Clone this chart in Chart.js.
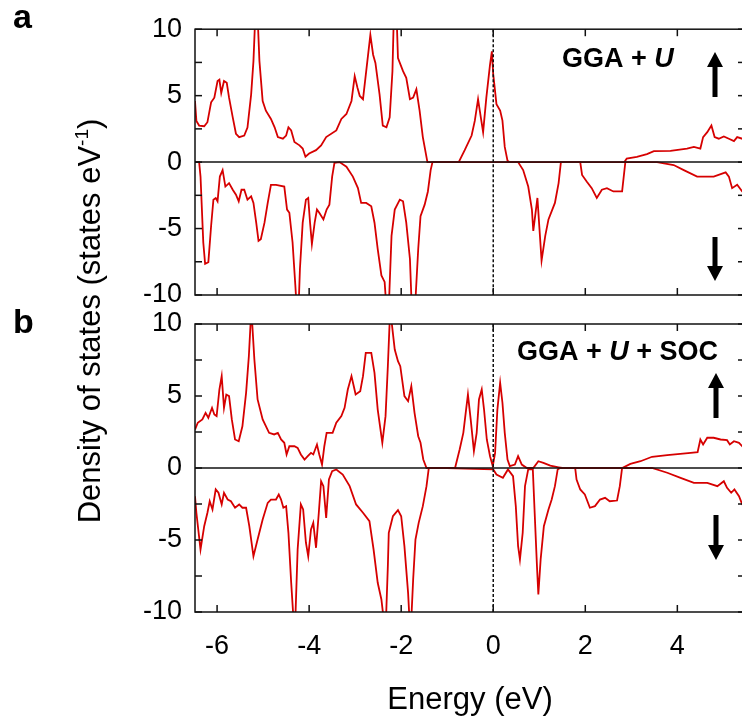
<!DOCTYPE html>
<html>
<head>
<meta charset="utf-8">
<script src="https://cdn.jsdelivr.net/npm/chart.js@4.4.1/dist/chart.umd.min.js"></script>
<style>
    html, body { margin: 0; padding: 0; background: #fff; overflow: hidden; width: 742px; height: 725px; }
    canvas { position: absolute; left: 0; top: 0; }
</style>
</head>
<body>
<canvas id="panelA" width="750" height="725"></canvas>
<canvas id="panelB" width="750" height="725"></canvas>
<script>
// energy window and tick positions
const xMin = -6.48;
const xMax = 5.47;
const xTicks = [-6, -4, -2, 0, 2, 4];
const yTicks = [-10, -7.5, -5, -2.5, 0, 2.5, 5, 7.5, 10];

// panel a: GGA + U, spin up
const aUpEnergy = [-6.48, -6.45, -6.39, -6.28, -6.21, -6.13, -6.06, -5.99, -5.95, -5.91, -5.85, -5.79, -5.74, -5.66, -5.59, -5.52, -5.41, -5.34, -5.26, -5.21, -5.17, -5.12, -5.08, -5.01, -4.94, -4.83, -4.75, -4.68, -4.57, -4.5, -4.45, -4.39, -4.32, -4.21, -4.14, -4.08, -4.0, -3.85, -3.74, -3.63, -3.41, -3.3, -3.19, -3.08, -3.01, -2.95, -2.9, -2.83, -2.76, -2.67, -2.61, -2.56, -2.47, -2.4, -2.32, -2.25, -2.19, -2.16, -2.1, -2.07, -1.96, -1.89, -1.81, -1.74, -1.67, -1.6, -1.53, -1.43, -0.75, -0.62, -0.47, -0.4, -0.33, -0.27, -0.22, -0.15, -0.07, -0.03, 0.0, 0.07, 0.15, 0.2, 0.25, 0.31, 0.35, 2.85, 2.9, 3.12, 3.34, 3.49, 3.85, 4.21, 4.36, 4.5, 4.56, 4.65, 4.74, 4.81, 4.9, 5.01, 5.12, 5.23, 5.3, 5.41, 5.5];
const aUpDos = [4.6, 3.1, 2.75, 2.7, 3.0, 4.5, 4.85, 6.1, 6.2, 5.2, 6.1, 5.97, 4.85, 3.37, 2.13, 1.88, 2.0, 2.6, 5.1, 7.6, 11, 11, 7.6, 4.6, 3.87, 3.25, 2.62, 1.88, 1.76, 2.0, 2.62, 2.38, 1.51, 1.26, 1.02, 0.4, 0.65, 0.9, 1.26, 1.88, 2.38, 3.25, 3.62, 4.6, 6.47, 5.6, 4.98, 4.73, 6.84, 9.57, 8.08, 7.46, 5.1, 2.75, 2.62, 3.37, 6.84, 11, 11, 7.83, 6.84, 6.34, 4.73, 4.85, 5.48, 3.87, 1.88, 0, 0, 0.9, 2.0, 3.12, 4.73, 3.37, 2.25, 4.85, 7.34, 8.33, 6.6, 4.36, 3.87, 3.12, 1.14, 0.1, 0, 0, 0.27, 0.4, 0.6, 0.82, 0.84, 1.02, 1.14, 1.02, 1.88, 2.25, 2.75, 1.88, 1.76, 1.93, 1.76, 1.58, 1.88, 1.76, 1.8];

// panel a: GGA + U, spin down
const aDownEnergy = [-6.48, -6.39, -6.36, -6.3, -6.26, -6.19, -6.13, -6.08, -6.03, -5.99, -5.94, -5.88, -5.82, -5.74, -5.66, -5.59, -5.53, -5.47, -5.41, -5.34, -5.26, -5.21, -5.15, -5.1, -5.05, -4.97, -4.9, -4.83, -4.72, -4.54, -4.48, -4.43, -4.36, -4.3, -4.27, -4.23, -4.2, -4.14, -4.07, -4.02, -3.98, -3.94, -3.88, -3.83, -3.78, -3.69, -3.62, -3.56, -3.5, -3.45, -3.34, -3.19, -3.05, -2.94, -2.87, -2.76, -2.65, -2.58, -2.51, -2.43, -2.36, -2.32, -2.27, -2.21, -2.14, -2.03, -1.96, -1.89, -1.81, -1.77, -1.7, -1.63, -1.58, -1.49, -1.42, -1.36, -1.32, 0.54, 0.65, 0.76, 0.84, 0.87, 0.96, 1.05, 1.13, 1.2, 1.34, 1.42, 1.47, 1.89, 1.93, 2.03, 2.14, 2.25, 2.36, 2.47, 2.61, 2.8, 2.87, 3.56, 3.92, 4.14, 4.43, 4.79, 5.05, 5.12, 5.19, 5.3, 5.41, 5.5];
const aDownDos = [0, 0, -1.09, -6.05, -7.66, -7.53, -4.81, -2.83, -2.7, -2.95, -1.09, -0.6, -1.84, -1.58, -2.08, -2.45, -2.95, -2.08, -2.08, -2.83, -2.58, -3.07, -4.56, -5.93, -5.8, -4.56, -3.07, -1.71, -1.71, -1.84, -3.57, -3.81, -6.05, -9.27, -11, -11, -8.03, -4.56, -2.83, -2.7, -4.56, -6.17, -4.56, -3.57, -3.81, -4.31, -3.57, -3.2, -1.09, -0.05, 0, -0.35, -1.09, -1.96, -3.07, -3.07, -3.32, -4.56, -6.54, -8.53, -9.02, -11, -11, -5.55, -3.57, -2.83, -2.95, -4.56, -7.29, -11, -11, -6.54, -4.07, -3.2, -2.21, -0.6, 0, 0, -0.6, -1.84, -3.57, -5.18, -2.7, -7.41, -5.55, -4.31, -3.07, -1.58, 0, 0, -0.97, -1.46, -1.96, -2.7, -2.08, -1.96, -2.21, -2.21, 0, 0, -0.22, -0.6, -1.09, -1.09, -0.77, -1.09, -1.96, -1.71, -2.21, -2.3];

// panel b: GGA + U + SOC, spin up
const bUpEnergy = [-6.48, -6.42, -6.32, -6.25, -6.19, -6.11, -6.06, -6.01, -5.95, -5.9, -5.85, -5.8, -5.74, -5.68, -5.61, -5.53, -5.45, -5.37, -5.31, -5.27, -5.24, -5.19, -5.12, -5.01, -4.87, -4.76, -4.68, -4.61, -4.54, -4.49, -4.43, -4.32, -4.25, -4.18, -4.1, -4.03, -3.96, -3.91, -3.83, -3.78, -3.72, -3.67, -3.62, -3.49, -3.41, -3.3, -3.23, -3.16, -3.08, -3.03, -2.99, -2.89, -2.83, -2.77, -2.65, -2.58, -2.51, -2.41, -2.34, -2.29, -2.25, -2.21, -2.14, -2.07, -2.02, -1.93, -1.85, -1.78, -1.71, -1.63, -1.58, -1.52, -1.45, -0.83, -0.73, -0.65, -0.59, -0.55, -0.49, -0.42, -0.36, -0.31, -0.25, -0.2, -0.14, -0.07, -0.01, 0.04, 0.09, 0.15, 0.2, 0.25, 0.31, 0.36, 0.47, 0.54, 0.62, 0.73, 0.87, 0.98, 1.09, 1.24, 1.42, 1.5, 2.8, 2.98, 3.2, 3.45, 3.78, 4.29, 4.44, 4.5, 4.56, 4.65, 4.79, 4.94, 5.08, 5.14, 5.23, 5.34, 5.41, 5.5];
const bUpDos = [2.67, 3.14, 3.37, 3.83, 3.49, 4.18, 3.72, 3.6, 5.45, 6.38, 4.18, 5.1, 4.99, 3.37, 1.98, 1.86, 2.9, 5.22, 7.76, 10.2, 10.2, 7.53, 4.76, 3.37, 2.44, 2.33, 2.44, 1.98, 1.75, 0.94, 1.51, 1.51, 1.4, 0.94, 0.59, 0.82, 1.05, 0.94, 1.63, 0.94, 0.24, 1.51, 2.44, 2.44, 3.14, 3.6, 4.18, 5.45, 6.38, 5.68, 5.1, 5.33, 6.38, 8.0, 8.0, 6.61, 4.06, 1.75, 3.6, 7.07, 10.2, 10.2, 8.23, 7.42, 7.07, 4.99, 4.64, 5.68, 3.83, 2.21, 1.75, 0.59, 0, 0, 1.28, 2.44, 4.06, 5.1, 3.37, 1.17, 2.44, 4.76, 5.45, 4.06, 1.98, 0.82, 0.13, 1.05, 4.06, 5.92, 4.53, 2.44, 0.59, 0.13, 0.24, 0.82, 0.24, 0, 0, 0.47, 0.36, 0.17, 0.05, 0, 0, 0.29, 0.47, 0.78, 0.89, 1.05, 1.1, 1.98, 1.63, 2.1, 2.1, 1.98, 1.93, 1.63, 1.86, 1.75, 1.51, 1.6];

// panel b: GGA + U + SOC, spin down
const bDownEnergy = [-6.48, -6.45, -6.36, -6.28, -6.21, -6.16, -6.1, -6.03, -5.97, -5.9, -5.85, -5.77, -5.7, -5.61, -5.52, -5.45, -5.37, -5.3, -5.21, -5.12, -5.01, -4.9, -4.83, -4.72, -4.66, -4.61, -4.56, -4.5, -4.45, -4.39, -4.34, -4.3, -4.25, -4.18, -4.13, -4.07, -4.02, -3.96, -3.91, -3.85, -3.79, -3.74, -3.69, -3.63, -3.57, -3.5, -3.41, -3.27, -3.12, -2.98, -2.83, -2.69, -2.6, -2.51, -2.43, -2.38, -2.33, -2.29, -2.27, -2.18, -2.07, -2.0, -1.93, -1.85, -1.82, -1.78, -1.74, -1.69, -1.62, -1.53, -1.45, -1.4, -1.0, -0.6, 0.0, 0.07, 0.21, 0.32, 0.43, 0.49, 0.54, 0.58, 0.64, 0.69, 0.76, 0.86, 0.9, 0.95, 0.98, 1.03, 1.1, 1.2, 1.27, 1.34, 1.4, 1.45, 1.78, 1.81, 1.89, 1.99, 2.1, 2.21, 2.32, 2.43, 2.53, 2.69, 2.75, 2.8, 3.45, 3.78, 4.07, 4.36, 4.65, 4.87, 5.01, 5.08, 5.17, 5.24, 5.34, 5.41, 5.5];
const bDownDos = [-1.96, -3.11, -5.66, -4.04, -3.11, -2.31, -2.88, -1.49, -1.72, -2.53, -1.72, -2.19, -2.31, -2.76, -2.53, -2.76, -2.76, -4.04, -6.13, -4.97, -3.58, -2.42, -2.19, -2.19, -1.84, -2.19, -2.76, -2.65, -4.5, -7.97, -10.5, -10.5, -5.66, -2.53, -2.88, -5.19, -6.13, -4.27, -3.81, -5.54, -3.11, -0.92, -1.26, -3.46, -0.8, -0.22, -0.1, -0.45, -1.26, -2.53, -3.11, -3.69, -5.66, -7.97, -9.13, -10.5, -10.5, -6.82, -4.5, -3.35, -2.93, -3.35, -5.43, -8.67, -10.5, -10.5, -7.74, -4.97, -3.81, -2.65, -1.26, 0, 0, -0.05, -0.1, -0.45, -0.68, -0.1, -0.57, -2.65, -5.43, -6.35, -4.5, -1.26, -0.1, -0.1, -3.11, -6.82, -8.78, -6.35, -4.04, -2.88, -2.19, -1.26, -0.1, 0, 0, -0.8, -1.49, -1.84, -2.76, -2.65, -2.19, -2.07, -2.31, -2.26, -1.26, 0, 0, -0.33, -0.68, -1.03, -1.03, -1.26, -0.92, -1.38, -1.72, -1.49, -1.96, -2.53, -2.7];

const lineColor = 'rgb(214, 0, 0)';
const fontFamily = "'Liberation Sans', Arial, sans-serif";

function toPoints(energies, values) {
    return energies.map((e, i) => ({ x: e, y: values[i] }));
}

function strokeLine(ctx, x1, y1, x2, y2) {
    ctx.beginPath();
    ctx.moveTo(x1, y1);
    ctx.lineTo(x2, y2);
    ctx.stroke();
}

function drawArrow(ctx, x, yFrom, yTo) {
    const dir = yTo < yFrom ? -1 : 1;
    const head = 15;
    ctx.fillStyle = '#000';
    ctx.fillRect(x - 2.5, Math.min(yFrom, yTo - dir * head), 5, Math.abs(yTo - dir * head - yFrom));
    ctx.beginPath();
    ctx.moveTo(x, yTo);
    ctx.lineTo(x - 8, yTo - dir * head);
    ctx.lineTo(x + 8, yTo - dir * head);
    ctx.closePath();
    ctx.fill();
}

// box, inward ticks, zero line and the dashed Fermi level
const framePlugin = {
    id: 'frame',
    afterDatasetsDraw(chart) {
        const { ctx, chartArea: area, scales: { x, y } } = chart;
        ctx.save();
        ctx.strokeStyle = '#111';
        ctx.lineWidth = 1.5;

        const y0 = y.getPixelForValue(0);
        strokeLine(ctx, area.left, y0, area.right, y0);

        const x0 = x.getPixelForValue(0);
        ctx.setLineDash([3, 2]);
        strokeLine(ctx, x0, area.top, x0, area.bottom);
        ctx.setLineDash([]);

        ctx.strokeRect(area.left, area.top, area.right - area.left, area.bottom - area.top);

        xTicks.forEach(v => {
            const px = x.getPixelForValue(v);
            strokeLine(ctx, px, area.top, px, area.top + 7);
            strokeLine(ctx, px, area.bottom, px, area.bottom - 7);
        });
        yTicks.forEach(v => {
            const py = y.getPixelForValue(v);
            strokeLine(ctx, area.left, py, area.left + 7, py);
            strokeLine(ctx, area.right, py, area.right - 7, py);
        });
        ctx.restore();
    }
};

// panel letters, method labels, spin arrows and the shared y title
const notesPlugin = {
    id: 'notes',
    afterDraw(chart, args, opts) {
        const ctx = chart.ctx;
        ctx.save();
        ctx.fillStyle = '#000';
        ctx.textBaseline = 'alphabetic';
        ctx.textAlign = 'left';

        ctx.font = 'bold 34px ' + fontFamily;
        ctx.fillText(opts.letter, 13, opts.letterY);

        let cx = opts.labelX;
        opts.label.forEach(part => {
            ctx.font = (part.italic ? 'italic ' : '') + 'bold 27px ' + fontFamily;
            ctx.fillText(part.text, cx, opts.labelY);
            cx += ctx.measureText(part.text).width;
        });

        drawArrow(ctx, opts.arrowX, opts.up[0], opts.up[1]);
        drawArrow(ctx, opts.arrowX, opts.down[0], opts.down[1]);

        if (opts.yTitle) {
            ctx.translate(100, 321);
            ctx.rotate(-Math.PI / 2);
            ctx.font = '31px ' + fontFamily;
            const main = 'Density of states (states eV';
            const sup = '-1';
            const close = ')';
            const wMain = ctx.measureText(main).width;
            const wClose = ctx.measureText(close).width;
            ctx.font = '19px ' + fontFamily;
            const wSup = ctx.measureText(sup).width;
            let tx = -(wMain + wSup + wClose) / 2;
            ctx.font = '31px ' + fontFamily;
            ctx.fillText(main, tx, 0);
            tx += wMain;
            ctx.font = '19px ' + fontFamily;
            ctx.fillText(sup, tx, -12);
            tx += wSup;
            ctx.font = '31px ' + fontFamily;
            ctx.fillText(close, tx, 0);
        }
        ctx.restore();
    }
};

function createPanel(canvasId, upE, upD, downE, downD, setup) {
    return new Chart(canvasId, {
        type: 'line',
        data: {
            datasets: [
                { data: toPoints(upE, upD), label: 'spin up' },
                { data: toPoints(downE, downD), label: 'spin down' }
            ]
        },
        options: {
            responsive: false,
            animation: false,
            devicePixelRatio: 1,
            parsing: false,
            layout: { padding: { top: setup.padTop, bottom: setup.padBottom, left: 0, right: 5 } },
            elements: {
                line: { borderColor: lineColor, borderWidth: 1.8, tension: 0, fill: false },
                point: { radius: 0 }
            },
            plugins: {
                legend: { display: false },
                tooltip: { enabled: false },
                notes: setup.notes
            },
            scales: {
                x: {
                    type: 'linear',
                    min: xMin,
                    max: xMax,
                    grid: { display: false, drawTicks: false },
                    border: { display: false },
                    ticks: {
                        display: setup.showX,
                        stepSize: 2,
                        includeBounds: false,
                        autoSkip: false,
                        maxRotation: 0,
                        padding: 18,
                        color: '#000',
                        font: { family: fontFamily, size: 27 }
                    },
                    title: {
                        display: setup.showX,
                        text: 'Energy (eV)',
                        color: '#000',
                        padding: 0,
                        font: { family: fontFamily, size: 31 }
                    },
                    afterFit: scale => { scale.height = setup.xHeight; }
                },
                y: {
                    type: 'linear',
                    min: -10,
                    max: 10,
                    grid: { display: false, drawTicks: false },
                    border: { display: false },
                    ticks: {
                        stepSize: 2.5,
                        autoSkip: false,
                        padding: 13,
                        color: '#000',
                        font: { family: fontFamily, size: 27 },
                        callback: v => (v % 5 === 0 ? String(v) : '')
                    },
                    afterFit: scale => { scale.width = 195; }
                }
            }
        },
        plugins: [framePlugin, notesPlugin]
    });
}

createPanel('panelA', aUpEnergy, aUpDos, aDownEnergy, aDownDos, {
    padTop: 26,
    padBottom: 420,
    xHeight: 10,
    showX: false,
    notes: {
        letter: 'a', letterY: 28,
        label: [{ text: 'GGA + ' }, { text: 'U', italic: true }],
        labelX: 562, labelY: 67,
        arrowX: 715, up: [97, 52], down: [237, 281],
        yTitle: false
    }
});

createPanel('panelB', bUpEnergy, bUpDos, bDownEnergy, bDownDos, {
    padTop: 324,
    padBottom: 6,
    xHeight: 107,
    showX: true,
    notes: {
        letter: 'b', letterY: 333,
        label: [{ text: 'GGA + ' }, { text: 'U', italic: true }, { text: ' + SOC' }],
        labelX: 517, labelY: 360,
        arrowX: 716, up: [418, 373], down: [515, 560],
        yTitle: true
    }
});
</script>
</body>
</html>
